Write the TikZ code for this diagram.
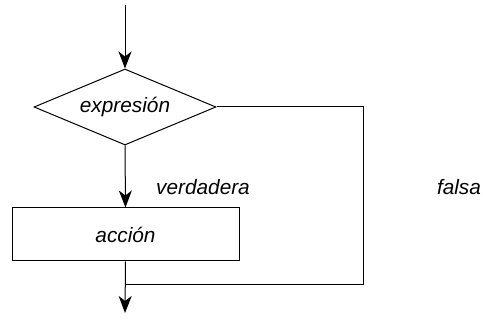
\documentclass[tikz,border=0pt]{standalone}
\usepackage{fontspec}
\setmainfont{Liberation Sans}
\usetikzlibrary{shapes, arrows.meta, positioning}
\tikzstyle{decision} = [draw, diamond, aspect=2.4, inner sep=0pt, minimum width=182pt, minimum height=76pt, font=\itshape\fontsize{20.8}{24}\selectfont]
\tikzstyle{bloque} = [draw, rectangle, inner sep=0pt, minimum width=227pt, minimum height=53pt, font=\itshape\fontsize{20.8}{24}\selectfont]
\tikzstyle{etiqueta} = [inner sep=0pt, font=\itshape\fontsize{20.8}{24}\selectfont]
\tikzstyle{flecha} = [-{Stealth[length=17pt, width=13pt, inset=5pt]}]

\begin{document}
\begin{tikzpicture}[x=1pt, y=-1pt, line width=1pt]
	\useasboundingbox (0,0) rectangle (483,321);
	\coordinate (inicio) at (125,5);
	\node [decision] (expr) at (125,107) {expresión};
	\node [bloque] (accion) at (125.5,234.5) {acción};
	\coordinate (derecha) at (363,107);
	\coordinate (abajo) at (363,284);
	\coordinate (union) at (125,284);
	\coordinate (fin) at (125,313);
	\node [etiqueta] (verdadera) at (203,187) {verdadera};
	\node [etiqueta] (falsa) at (459,187) {falsa};
	% flujo principal
	\draw [flecha] (inicio) -- (expr.north);
	\draw [flecha] (expr.south) -- (accion.north);
	\draw [flecha] (accion.south) -- (fin);
	% rama falsa
	\draw (expr.east) -- (derecha) -- (abajo) -- (union);
\end{tikzpicture}
\end{document}
